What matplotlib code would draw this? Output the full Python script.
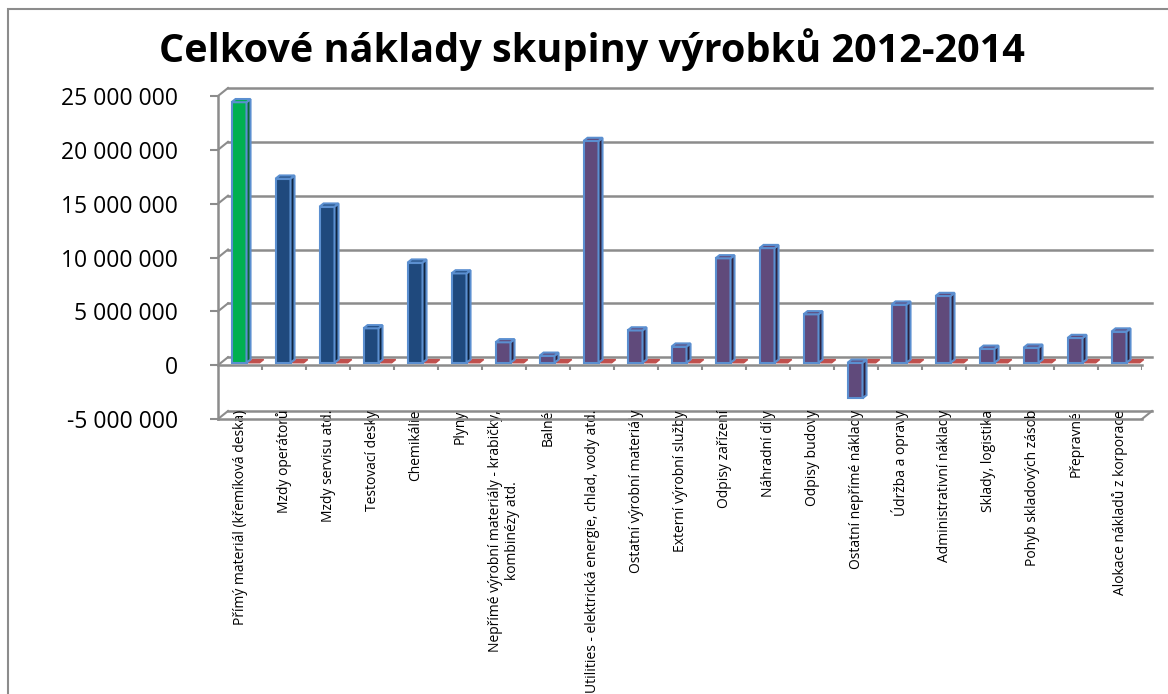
import matplotlib
matplotlib.use("Agg")
import matplotlib.pyplot as plt
from matplotlib.patches import Polygon, Rectangle

plt.rcParams['font.family'] = ['Open Sans', 'DejaVu Sans']

# Cost groups and totals (CZK)
categories = [
    'Přímý materiál (křemíková deska)',
    'Mzdy operátorů',
    'Mzdy servisu atd.',
    'Testovací desky',
    'Chemikálie',
    'Plyny',
    'Nepřímé výrobní materiály - krabičky,\nkombinézy atd.',
    'Balné',
    'Utilities - elektrická energie, chlad, vody atd.',
    'Ostatní výrobní materiály',
    'Externí výrobní služby',
    'Odpisy zařízení',
    'Náhradní díly',
    'Odpisy budovy',
    'Ostatní nepřímé náklady',
    'Údržba a opravy',
    'Administrativní náklady',
    'Sklady, logistika',
    'Pohyb skladových zásob',
    'Přepravné',
    'Alokace nákladů z korporace',
]
costs = [24200000, 17100000, 14500000, 3200000, 9300000, 8300000,
         1900000, 650000, 20600000, 3000000, 1500000, 9700000,
         10650000, 4500000, -3300000, 5400000, 6200000, 1300000,
         1400000, 2300000, 2900000]
second = [0] * len(categories)   # empty second series (flat red caps)
bar_colors = ['#00B050'] + ['#1F497D'] * 5 + ['#604A7B'] * 15
side_colors = {'#00B050': '#0A6B33', '#1F497D': '#0F2440', '#604A7B': '#2E2340'}
yticks = [-5000000, 0, 5000000, 10000000, 15000000, 20000000, 25000000]

W, H = 1168, 694
fig = plt.figure(figsize=(W / 100, H / 100), dpi=100)
left_px, right_px, top_px, bot_px = 218, 1142, 96, 419
ax = fig.add_axes([left_px / W, 1 - bot_px / H,
                   (right_px - left_px) / W, (bot_px - top_px) / H])
n = len(categories)
ax.set_xlim(-0.5, n - 0.5)
ax.set_ylim(-5000000, 25000000)

# pixel -> data conversion for the fake depth
ux = (right_px - left_px) / n
uy = (bot_px - top_px) / 30000000
BX, BY = 10 / ux, 8 / uy
grid = '#8C8C8C'

# back wall gridlines with left diagonals
for v in yticks:
    ax.plot([-0.5 + BX, n - 0.5 + BX], [v + BY, v + BY], color=grid, lw=1.8,
            clip_on=False, zorder=1)
    ax.plot([-0.5, -0.5 + BX], [v, v + BY], color=grid, lw=1.5,
            clip_on=False, zorder=1)
# floor front edge and right diagonal
ax.plot([n - 0.5, n - 0.5 + BX], [-5000000, -5000000 + BY], color=grid, lw=1.5,
        clip_on=False, zorder=1)
# zero plane front edge with category ticks
ax.plot([-0.5, n - 0.5], [0, 0], color=grid, lw=1.8, clip_on=False, zorder=1)
ax.vlines([i + 0.5 for i in range(n)], -5 / uy, 0, color=grid, lw=1.5, zorder=1)

# columns drawn with a small oblique depth
d0, d1 = 0.3, 0.7
edge = '#5B8FD0'
for i, (v, c) in enumerate(zip(costs, bar_colors)):
    x0, x1 = i - 0.26, i + 0.08
    ox, oy = d0 * BX, d0 * BY
    dx, dy = (d1 - d0) * BX, (d1 - d0) * BY
    lo, hi = min(0, v), max(0, v)
    ax.add_patch(Rectangle((x0 + ox, lo + oy), x1 - x0, hi - lo, facecolor=c,
                           edgecolor=edge, lw=1.5, zorder=3, clip_on=False))
    ax.add_patch(Polygon([(x1 + ox, lo + oy), (x1 + ox + dx, lo + oy + dy),
                          (x1 + ox + dx, hi + oy + dy), (x1 + ox, hi + oy)],
                         closed=True, facecolor=side_colors[c], edgecolor=edge,
                         lw=1.5, zorder=3, clip_on=False))
    ax.add_patch(Polygon([(x0 + ox, hi + oy), (x0 + ox + dx, hi + oy + dy),
                          (x1 + ox + dx, hi + oy + dy), (x1 + ox, hi + oy)],
                         closed=True, facecolor=c, edgecolor=edge,
                         lw=1.5, zorder=3, clip_on=False))

for i, v in enumerate(second):
    x0, x1 = i + 0.12, i + 0.38
    ox, oy = d0 * BX, d0 * BY
    dx, dy = (d1 - d0) * BX, (d1 - d0) * BY
    ax.add_patch(Polygon([(x0 + ox, v + oy), (x0 + ox + dx, v + oy + dy),
                          (x1 + ox + dx, v + oy + dy), (x1 + ox, v + oy)],
                         closed=True, facecolor='#C0504D', edgecolor='#C0504D',
                         lw=1.0, zorder=2, clip_on=False))

# axes styling
for s in ('top', 'right'):
    ax.spines[s].set_visible(False)
for s in ('left', 'bottom'):
    ax.spines[s].set_color(grid)
    ax.spines[s].set_linewidth(1.8)
ax.set_yticks(yticks)
ax.set_yticklabels([f"{v:,.0f}".replace(',', ' ') for v in yticks])
ax.tick_params(axis='y', length=6, width=1.5, color=grid, pad=23,
               labelsize=16.5, labelcolor='black')
ax.set_xticks(range(n))
ax.set_xticklabels(categories, rotation=90, fontsize=10, ma='center')
ax.tick_params(axis='x', length=0, pad=-6.5)
ax.set_facecolor('none')

fig.text(0.507, 1 - 50 / H, 'Celkové náklady skupiny výrobků 2012-2014',
         ha='center', va='center', fontsize=28.5, fontweight='bold')

# chart area border
fig.patches.append(Rectangle((8 / W, -0.2), 1.2, 1.2 - 9 / H, transform=fig.transFigure,
                             fill=False, edgecolor='#8C8C8C', lw=1.5))

fig.savefig('out.png', dpi=100)
